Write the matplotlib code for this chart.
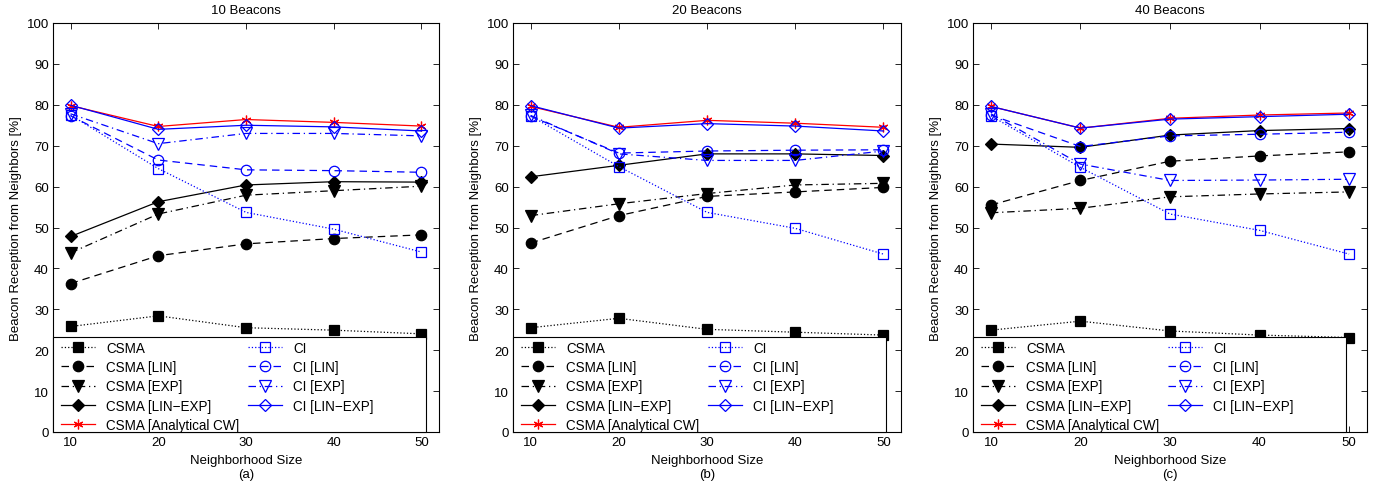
import matplotlib
matplotlib.use("Agg")
import matplotlib.pyplot as plt
from matplotlib.patches import Rectangle

plt.rcParams['font.family'] = ['Liberation Sans', 'DejaVu Sans']
plt.rcParams['font.size'] = 9.5

sizes = [10, 20, 30, 40, 50]
titles = ["10 Beacons", "20 Beacons", "40 Beacons"]
panel_tags = ["(a)", "(b)", "(c)"]

# panel (a): 10 beacons
csma_a = [25.8, 28.4, 25.5, 24.9, 24.0]
csma_lin_a = [36.3, 43.1, 46.0, 47.3, 48.2]
csma_exp_a = [43.8, 53.3, 57.9, 59.0, 60.1]
csma_linexp_a = [47.8, 56.3, 60.4, 61.2, 61.1]
csma_cw_a = [79.8, 74.7, 76.4, 75.7, 74.8]
ci_a = [77.5, 64.4, 53.7, 49.6, 44.0]
ci_lin_a = [77.3, 66.5, 64.1, 63.9, 63.5]
ci_exp_a = [77.8, 70.5, 73.0, 73.0, 72.4]
ci_linexp_a = [79.9, 74.0, 75.0, 74.6, 73.6]

# panel (b): 20 beacons
csma_b = [25.5, 27.8, 25.1, 24.4, 23.7]
csma_lin_b = [46.2, 52.9, 57.6, 58.7, 59.8]
csma_exp_b = [52.9, 55.8, 58.3, 60.4, 60.8]
csma_linexp_b = [62.4, 65.2, 68.0, 68.0, 67.6]
csma_cw_b = [79.6, 74.5, 76.2, 75.5, 74.5]
ci_b = [77.3, 64.9, 53.7, 49.8, 43.5]
ci_lin_b = [77.2, 68.2, 68.7, 68.9, 69.0]
ci_exp_b = [77.4, 68.0, 66.4, 66.4, 68.7]
ci_linexp_b = [79.8, 74.3, 75.4, 74.8, 73.6]

# panel (c): 40 beacons
csma_c = [24.9, 27.1, 24.7, 23.7, 23.1]
csma_lin_c = [55.5, 61.5, 66.2, 67.5, 68.5]
csma_exp_c = [53.6, 54.7, 57.5, 58.2, 58.7]
csma_linexp_c = [70.4, 69.6, 72.6, 73.7, 74.2]
csma_cw_c = [79.6, 74.3, 76.7, 77.5, 78.0]
ci_c = [77.3, 64.7, 53.3, 49.3, 43.5]
ci_lin_c = [77.5, 69.8, 72.4, 72.8, 73.3]
ci_exp_c = [77.8, 65.5, 61.5, 61.6, 61.8]
ci_linexp_c = [79.6, 74.3, 76.5, 77.1, 77.7]

labels = ["CSMA", "CSMA [LIN]", "CSMA [EXP]", "CSMA [LIN\u2212EXP]",
          "CSMA [Analytical CW]", "CI", "CI [LIN]", "CI [EXP]", "CI [LIN\u2212EXP]"]

panels = [
    [csma_a, csma_lin_a, csma_exp_a, csma_linexp_a, csma_cw_a, ci_a, ci_lin_a, ci_exp_a, ci_linexp_a],
    [csma_b, csma_lin_b, csma_exp_b, csma_linexp_b, csma_cw_b, ci_b, ci_lin_b, ci_exp_b, ci_linexp_b],
    [csma_c, csma_lin_c, csma_exp_c, csma_linexp_c, csma_cw_c, ci_c, ci_lin_c, ci_exp_c, ci_linexp_c],
]

dash = (0, (6, 4))
dashdot = (0, (6, 3, 1, 3))
styles = [
    dict(color="black", ls=":", marker="s", ms=6.5, mfc="black"),
    dict(color="black", ls=dash, marker="o", ms=7.5, mfc="black"),
    dict(color="black", ls=dashdot, marker="v", ms=8, mfc="black"),
    dict(color="black", ls="-", marker="D", ms=6.5, mfc="black"),
    dict(color="red", ls="-", marker=(6, 2, 0), ms=7, mfc="red"),
    dict(color="blue", ls=":", marker="s", ms=6.5, mfc="none"),
    dict(color="blue", ls=dash, marker="o", ms=7.5, mfc="none"),
    dict(color="blue", ls=dashdot, marker="v", ms=8, mfc="none"),
    dict(color="blue", ls="-", marker="D", ms=6.5, mfc="none"),
]

fig = plt.figure(figsize=(13.86, 4.85), dpi=100)
W, H = 1386, 485
boxes = [(53, 439), (513, 901), (973, 1367)]
top, bottom = 24, 433
leg_top = 338

for i, (x0, x1) in enumerate(boxes):
    ax = fig.add_axes([x0 / W, (H - bottom) / H, (x1 - x0) / W, (bottom - top) / H])
    for series, lab, st in zip(panels[i], labels, styles):
        ax.plot(sizes, series, label=lab, lw=0.9, mew=0.9, mec=st["color"], **st)
    ax.set_xlim(8, 52)
    ax.set_ylim(0, 100)
    ax.set_xticks(sizes)
    ax.set_yticks(range(0, 101, 10))
    ax.tick_params(direction="in", top=True, right=True, length=4, width=0.6,
                   pad=3, labelsize=9.5)
    for sp in ax.spines.values():
        sp.set_linewidth(0.8)
    ax.set_title(titles[i], fontsize=9.5, pad=7)
    ax.set_xlabel("Neighborhood Size\n" + panel_tags[i], fontsize=9.5, labelpad=4,
                  linespacing=1.25)
    ax.set_ylabel("Beacon Reception from Neighbors [%]", fontsize=9.5, labelpad=3)

    # legend box: white frame drawn separately so it can be wider than its content
    axw = x1 - x0
    lw = 373 / axw
    lh = (bottom - leg_top) / (bottom - top)
    ax.add_patch(Rectangle((0, 0), lw, lh, transform=ax.transAxes, facecolor="white",
                           edgecolor="black", lw=0.8, zorder=4, clip_on=False))
    ax.legend(loc="upper left", bbox_to_anchor=(4 / axw, lh), ncol=2, borderaxespad=0,
              frameon=False, fontsize=9.75, handlelength=2.5, labelspacing=0.38,
              borderpad=0.3, handletextpad=0.85, columnspacing=0.6)

fig.savefig("out.png", dpi=100)
